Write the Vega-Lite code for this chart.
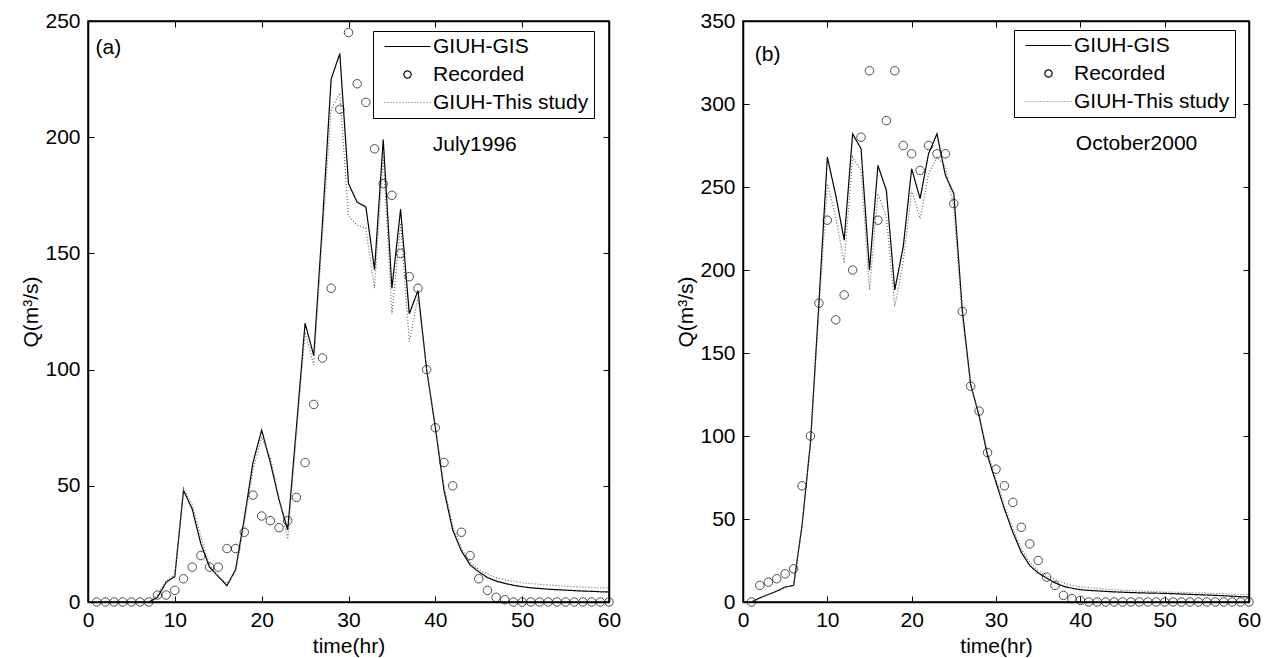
{
  "$schema": "https://vega.github.io/schema/vega-lite/v6.json",
  "background": "white",
  "padding": {"left": 20, "top": 9, "right": 10, "bottom": 0},
  "spacing": 53,
  "resolve": {"scale": {"color": "independent", "strokeDash": "independent"}, "legend": {"color": "independent", "strokeDash": "independent"}},
  "config": {
    "font": "Liberation Sans",
    "view": {"stroke": "black", "strokeWidth": 1.5},
    "axis": {
      "labelFont": "Liberation Sans", "titleFont": "Liberation Sans",
      "labelFontSize": 21, "titleFontSize": 21, "titleFontWeight": "normal",
      "labelColor": "black", "titleColor": "black",
      "domainColor": "black", "domainWidth": 1.5, "tickColor": "black", "tickWidth": 1,
      "grid": false, "tickSize": -6, "labelPadding": 14, "labelFlush": false, "labelOverlap": false
    },
    "legend": {
      "labelFont": "Liberation Sans", "labelFontSize": 21, "labelColor": "black", "labelLimit": 400
    }
  },
  "datasets": {
    "a": [
      {"t":1,"GIUH-GIS":0,"Recorded":0,"GIUH-This study":0},
      {"t":2,"GIUH-GIS":0,"Recorded":0,"GIUH-This study":0},
      {"t":3,"GIUH-GIS":0,"Recorded":0,"GIUH-This study":0},
      {"t":4,"GIUH-GIS":0,"Recorded":0,"GIUH-This study":0},
      {"t":5,"GIUH-GIS":0,"Recorded":0,"GIUH-This study":0},
      {"t":6,"GIUH-GIS":0,"Recorded":0,"GIUH-This study":0},
      {"t":7,"GIUH-GIS":0,"Recorded":0,"GIUH-This study":0},
      {"t":8,"GIUH-GIS":2,"Recorded":3,"GIUH-This study":3},
      {"t":9,"GIUH-GIS":8.5,"Recorded":3,"GIUH-This study":9},
      {"t":10,"GIUH-GIS":11,"Recorded":5,"GIUH-This study":12},
      {"t":11,"GIUH-GIS":48,"Recorded":10,"GIUH-This study":49},
      {"t":12,"GIUH-GIS":40,"Recorded":15,"GIUH-This study":42},
      {"t":13,"GIUH-GIS":25,"Recorded":20,"GIUH-This study":28},
      {"t":14,"GIUH-GIS":15,"Recorded":15,"GIUH-This study":16},
      {"t":15,"GIUH-GIS":11,"Recorded":15,"GIUH-This study":11},
      {"t":16,"GIUH-GIS":7,"Recorded":23,"GIUH-This study":8},
      {"t":17,"GIUH-GIS":14,"Recorded":23,"GIUH-This study":13},
      {"t":18,"GIUH-GIS":36,"Recorded":30,"GIUH-This study":34},
      {"t":19,"GIUH-GIS":60,"Recorded":46,"GIUH-This study":57},
      {"t":20,"GIUH-GIS":74,"Recorded":37,"GIUH-This study":71},
      {"t":21,"GIUH-GIS":60,"Recorded":35,"GIUH-This study":62},
      {"t":22,"GIUH-GIS":44,"Recorded":32,"GIUH-This study":45},
      {"t":23,"GIUH-GIS":31,"Recorded":35,"GIUH-This study":27},
      {"t":24,"GIUH-GIS":75,"Recorded":45,"GIUH-This study":72},
      {"t":25,"GIUH-GIS":120,"Recorded":60,"GIUH-This study":116},
      {"t":26,"GIUH-GIS":106,"Recorded":85,"GIUH-This study":102},
      {"t":27,"GIUH-GIS":163,"Recorded":105,"GIUH-This study":158},
      {"t":28,"GIUH-GIS":225,"Recorded":135,"GIUH-This study":212},
      {"t":29,"GIUH-GIS":236,"Recorded":212,"GIUH-This study":219},
      {"t":30,"GIUH-GIS":180,"Recorded":245,"GIUH-This study":166},
      {"t":31,"GIUH-GIS":172,"Recorded":223,"GIUH-This study":162},
      {"t":32,"GIUH-GIS":170,"Recorded":215,"GIUH-This study":161},
      {"t":33,"GIUH-GIS":143,"Recorded":195,"GIUH-This study":135},
      {"t":34,"GIUH-GIS":199,"Recorded":180,"GIUH-This study":192},
      {"t":35,"GIUH-GIS":135,"Recorded":175,"GIUH-This study":124},
      {"t":36,"GIUH-GIS":169,"Recorded":150,"GIUH-This study":163},
      {"t":37,"GIUH-GIS":124,"Recorded":140,"GIUH-This study":112},
      {"t":38,"GIUH-GIS":134,"Recorded":135,"GIUH-This study":131},
      {"t":39,"GIUH-GIS":100,"Recorded":100,"GIUH-This study":100},
      {"t":40,"GIUH-GIS":75,"Recorded":75,"GIUH-This study":76},
      {"t":41,"GIUH-GIS":48,"Recorded":60,"GIUH-This study":50},
      {"t":42,"GIUH-GIS":31,"Recorded":50,"GIUH-This study":33},
      {"t":43,"GIUH-GIS":22,"Recorded":30,"GIUH-This study":23},
      {"t":44,"GIUH-GIS":16,"Recorded":20,"GIUH-This study":17},
      {"t":45,"GIUH-GIS":13,"Recorded":10,"GIUH-This study":14},
      {"t":46,"GIUH-GIS":10.5,"Recorded":5,"GIUH-This study":12},
      {"t":47,"GIUH-GIS":9,"Recorded":2,"GIUH-This study":10.5},
      {"t":48,"GIUH-GIS":8,"Recorded":1,"GIUH-This study":9.5},
      {"t":49,"GIUH-GIS":7.2,"Recorded":0,"GIUH-This study":8.9},
      {"t":50,"GIUH-GIS":6.6,"Recorded":0,"GIUH-This study":8.3},
      {"t":51,"GIUH-GIS":6.1,"Recorded":0,"GIUH-This study":7.9},
      {"t":52,"GIUH-GIS":5.8,"Recorded":0,"GIUH-This study":7.6},
      {"t":53,"GIUH-GIS":5.5,"Recorded":0,"GIUH-This study":7.3},
      {"t":54,"GIUH-GIS":5.3,"Recorded":0,"GIUH-This study":7},
      {"t":55,"GIUH-GIS":5.1,"Recorded":0,"GIUH-This study":6.8},
      {"t":56,"GIUH-GIS":4.9,"Recorded":0,"GIUH-This study":6.6},
      {"t":57,"GIUH-GIS":4.7,"Recorded":0,"GIUH-This study":6.4},
      {"t":58,"GIUH-GIS":4.6,"Recorded":0,"GIUH-This study":6.2},
      {"t":59,"GIUH-GIS":4.4,"Recorded":0,"GIUH-This study":6.1},
      {"t":60,"GIUH-GIS":4.3,"Recorded":0,"GIUH-This study":6}
    ],
    "b": [
      {"t":1,"GIUH-GIS":0,"Recorded":0,"GIUH-This study":0},
      {"t":2,"GIUH-GIS":2.5,"Recorded":10,"GIUH-This study":2.5},
      {"t":3,"GIUH-GIS":4.5,"Recorded":12,"GIUH-This study":4.5},
      {"t":4,"GIUH-GIS":6.5,"Recorded":14,"GIUH-This study":6.5},
      {"t":5,"GIUH-GIS":9,"Recorded":17,"GIUH-This study":9},
      {"t":6,"GIUH-GIS":10,"Recorded":20,"GIUH-This study":10},
      {"t":7,"GIUH-GIS":46,"Recorded":70,"GIUH-This study":46},
      {"t":8,"GIUH-GIS":96,"Recorded":100,"GIUH-This study":95},
      {"t":9,"GIUH-GIS":180,"Recorded":180,"GIUH-This study":175},
      {"t":10,"GIUH-GIS":268,"Recorded":230,"GIUH-This study":252},
      {"t":11,"GIUH-GIS":245,"Recorded":170,"GIUH-This study":232},
      {"t":12,"GIUH-GIS":218,"Recorded":185,"GIUH-This study":204},
      {"t":13,"GIUH-GIS":282,"Recorded":200,"GIUH-This study":268},
      {"t":14,"GIUH-GIS":273,"Recorded":280,"GIUH-This study":260},
      {"t":15,"GIUH-GIS":200,"Recorded":320,"GIUH-This study":188},
      {"t":16,"GIUH-GIS":263,"Recorded":230,"GIUH-This study":246},
      {"t":17,"GIUH-GIS":248,"Recorded":290,"GIUH-This study":232},
      {"t":18,"GIUH-GIS":188,"Recorded":320,"GIUH-This study":178},
      {"t":19,"GIUH-GIS":214,"Recorded":275,"GIUH-This study":205},
      {"t":20,"GIUH-GIS":261,"Recorded":270,"GIUH-This study":248},
      {"t":21,"GIUH-GIS":243,"Recorded":260,"GIUH-This study":231},
      {"t":22,"GIUH-GIS":270,"Recorded":275,"GIUH-This study":258},
      {"t":23,"GIUH-GIS":282,"Recorded":270,"GIUH-This study":268},
      {"t":24,"GIUH-GIS":257,"Recorded":270,"GIUH-This study":262},
      {"t":25,"GIUH-GIS":246,"Recorded":240,"GIUH-This study":238},
      {"t":26,"GIUH-GIS":176,"Recorded":175,"GIUH-This study":172},
      {"t":27,"GIUH-GIS":131,"Recorded":130,"GIUH-This study":130},
      {"t":28,"GIUH-GIS":112,"Recorded":115,"GIUH-This study":113},
      {"t":29,"GIUH-GIS":88,"Recorded":90,"GIUH-This study":90},
      {"t":30,"GIUH-GIS":72,"Recorded":80,"GIUH-This study":74},
      {"t":31,"GIUH-GIS":56,"Recorded":70,"GIUH-This study":58},
      {"t":32,"GIUH-GIS":42,"Recorded":60,"GIUH-This study":44},
      {"t":33,"GIUH-GIS":30,"Recorded":45,"GIUH-This study":32},
      {"t":34,"GIUH-GIS":22,"Recorded":35,"GIUH-This study":24},
      {"t":35,"GIUH-GIS":17.5,"Recorded":25,"GIUH-This study":19},
      {"t":36,"GIUH-GIS":14.5,"Recorded":15,"GIUH-This study":16},
      {"t":37,"GIUH-GIS":11.5,"Recorded":10,"GIUH-This study":13.5},
      {"t":38,"GIUH-GIS":9.5,"Recorded":4,"GIUH-This study":11.5},
      {"t":39,"GIUH-GIS":8.3,"Recorded":2,"GIUH-This study":10},
      {"t":40,"GIUH-GIS":7.4,"Recorded":1,"GIUH-This study":9.2},
      {"t":41,"GIUH-GIS":7,"Recorded":0,"GIUH-This study":8.7},
      {"t":42,"GIUH-GIS":6.7,"Recorded":0,"GIUH-This study":8.2},
      {"t":43,"GIUH-GIS":6.4,"Recorded":0,"GIUH-This study":7.8},
      {"t":44,"GIUH-GIS":6.1,"Recorded":0,"GIUH-This study":7.4},
      {"t":45,"GIUH-GIS":5.9,"Recorded":0,"GIUH-This study":7.1},
      {"t":46,"GIUH-GIS":5.7,"Recorded":0,"GIUH-This study":6.8},
      {"t":47,"GIUH-GIS":5.5,"Recorded":0,"GIUH-This study":6.6},
      {"t":48,"GIUH-GIS":5.4,"Recorded":0,"GIUH-This study":6.4},
      {"t":49,"GIUH-GIS":5.3,"Recorded":0,"GIUH-This study":6.2},
      {"t":50,"GIUH-GIS":5.2,"Recorded":0,"GIUH-This study":6},
      {"t":51,"GIUH-GIS":5,"Recorded":0,"GIUH-This study":5.9},
      {"t":52,"GIUH-GIS":4.8,"Recorded":0,"GIUH-This study":5.8},
      {"t":53,"GIUH-GIS":4.6,"Recorded":0,"GIUH-This study":5.6},
      {"t":54,"GIUH-GIS":4.4,"Recorded":0,"GIUH-This study":5.5},
      {"t":55,"GIUH-GIS":4.2,"Recorded":0,"GIUH-This study":5.3},
      {"t":56,"GIUH-GIS":4,"Recorded":0,"GIUH-This study":5.1},
      {"t":57,"GIUH-GIS":3.8,"Recorded":0,"GIUH-This study":5},
      {"t":58,"GIUH-GIS":3.5,"Recorded":0,"GIUH-This study":4.8},
      {"t":59,"GIUH-GIS":3.2,"Recorded":0,"GIUH-This study":4.6},
      {"t":60,"GIUH-GIS":3,"Recorded":0,"GIUH-This study":4.5}
    ]
  },
  "hconcat": [
    {
      "width": 521, "height": 581,
      "data": {"name": "a"},
      "transform": [{"fold": ["GIUH-GIS", "Recorded", "GIUH-This study"], "as": ["series", "Q"]}],
      "resolve": {"axis": {"x": "independent", "y": "independent"}},
      "layer": [
        {
          "transform": [{"filter": "datum.series !== 'Recorded'"}],
          "mark": {"type": "line", "strokeWidth": 1.2},
          "encoding": {
            "x": {"field": "t", "type": "quantitative", "scale": {"domain": [0, 60], "nice": false},
                  "axis": {"orient": "bottom", "values": [0,10,20,30,40,50,60], "title": "time(hr)", "titlePadding": 5, "labelPadding": 13}},
            "y": {"field": "Q", "type": "quantitative", "scale": {"domain": [0, 250], "nice": false},
                  "axis": {"orient": "left", "values": [0,50,100,150,200,250], "title": "Q(m³/s)", "titlePadding": 3}},
            "color": {"field": "series", "type": "nominal",
                      "scale": {"domain": ["GIUH-GIS", "Recorded", "GIUH-This study"], "range": ["black", "black", "#666666"]},
                      "legend": {"orient": "none", "legendX": 285, "legendY": 10, "title": null,
                                 "strokeColor": "black", "fillColor": "white", "padding": 5,
                                 "symbolSize": 64, "labelOffset": 34, "rowPadding": 6, "symbolStrokeWidth": 1.2,
                                 "encode": {"symbols": {"update": {
                                   "shape": {"signal": "datum.value === 'Recorded' ? 'M5.65,0A0.9,0.9 0 1,1 3.85,0A0.9,0.9 0 1,1 5.65,0Z' : 'M-1,0H10.5'"},
                                   "strokeDash": {"signal": "datum.value === 'GIUH-This study' ? [1,2] : [1,0]"},
                                   "fill": {"value": "transparent"}
                                 }}}}},
            "strokeDash": {"field": "series", "type": "nominal",
                           "scale": {"domain": ["GIUH-GIS", "GIUH-This study"], "range": [[1, 0], [1, 2]]}, "legend": null}
          }
        },
        {
          "transform": [{"filter": "datum.series === 'Recorded'"}],
          "mark": {"type": "point", "shape": "circle", "filled": false, "size": 72, "strokeWidth": 1},
          "encoding": {
            "x": {"field": "t", "type": "quantitative", "axis": {"orient": "top", "values": [0,10,20,30,40,50,60], "labels": false, "title": null}},
            "y": {"field": "Q", "type": "quantitative", "axis": {"orient": "right", "values": [0,50,100,150,200,250], "labels": false, "title": null}},
            "color": {"field": "series", "type": "nominal"}
          }
        },
        {
          "data": {"values": [{}]},
          "mark": {"type": "text", "align": "left", "baseline": "alphabetic", "fontSize": 21, "font": "Liberation Sans", "color": "black"},
          "encoding": {"x": {"datum": 0.86, "axis": null}, "y": {"datum": 236, "axis": null}, "text": {"value": "(a)"}}
        },
        {
          "data": {"values": [{}]},
          "mark": {"type": "text", "align": "left", "baseline": "alphabetic", "fontSize": 21, "font": "Liberation Sans", "color": "black"},
          "encoding": {"x": {"datum": 39.7, "axis": null}, "y": {"datum": 194, "axis": null}, "text": {"value": "July1996"}}
        }
      ]
    },
    {
      "width": 506, "height": 581,
      "data": {"name": "b"},
      "transform": [{"fold": ["GIUH-GIS", "Recorded", "GIUH-This study"], "as": ["series", "Q"]}],
      "resolve": {"axis": {"x": "independent", "y": "independent"}},
      "layer": [
        {
          "transform": [{"filter": "datum.series !== 'Recorded'"}],
          "mark": {"type": "line", "strokeWidth": 1.2},
          "encoding": {
            "x": {"field": "t", "type": "quantitative", "scale": {"domain": [0, 60], "nice": false},
                  "axis": {"orient": "bottom", "values": [0,10,20,30,40,50,60], "title": "time(hr)", "titlePadding": 5, "labelPadding": 13}},
            "y": {"field": "Q", "type": "quantitative", "scale": {"domain": [0, 350], "nice": false},
                  "axis": {"orient": "left", "values": [0,50,100,150,200,250,300,350], "title": "Q(m³/s)", "titlePadding": 3}},
            "color": {"field": "series", "type": "nominal",
                      "scale": {"domain": ["GIUH-GIS", "Recorded", "GIUH-This study"], "range": ["black", "black", "#666666"]},
                      "legend": {"orient": "none", "legendX": 271, "legendY": 9, "title": null,
                                 "strokeColor": "black", "fillColor": "white", "padding": 5,
                                 "symbolSize": 64, "labelOffset": 34, "rowPadding": 6, "symbolStrokeWidth": 1.2,
                                 "encode": {"symbols": {"update": {
                                   "shape": {"signal": "datum.value === 'Recorded' ? 'M5.65,0A0.9,0.9 0 1,1 3.85,0A0.9,0.9 0 1,1 5.65,0Z' : 'M-1,0H10.5'"},
                                   "strokeDash": {"signal": "datum.value === 'GIUH-This study' ? [1,2] : [1,0]"},
                                   "fill": {"value": "transparent"}
                                 }}}}},
            "strokeDash": {"field": "series", "type": "nominal",
                           "scale": {"domain": ["GIUH-GIS", "GIUH-This study"], "range": [[1, 0], [1, 2]]}, "legend": null}
          }
        },
        {
          "transform": [{"filter": "datum.series === 'Recorded'"}],
          "mark": {"type": "point", "shape": "circle", "filled": false, "size": 72, "strokeWidth": 1},
          "encoding": {
            "x": {"field": "t", "type": "quantitative", "axis": {"orient": "top", "values": [0,10,20,30,40,50,60], "labels": false, "title": null}},
            "y": {"field": "Q", "type": "quantitative", "axis": {"orient": "right", "values": [0,50,100,150,200,250,300,350], "labels": false, "title": null}},
            "color": {"field": "series", "type": "nominal"}
          }
        },
        {
          "data": {"values": [{}]},
          "mark": {"type": "text", "align": "left", "baseline": "alphabetic", "fontSize": 21, "font": "Liberation Sans", "color": "black"},
          "encoding": {"x": {"datum": 1.39, "axis": null}, "y": {"datum": 326, "axis": null}, "text": {"value": "(b)"}}
        },
        {
          "data": {"values": [{}]},
          "mark": {"type": "text", "align": "left", "baseline": "alphabetic", "fontSize": 21, "font": "Liberation Sans", "color": "black"},
          "encoding": {"x": {"datum": 39.47, "axis": null}, "y": {"datum": 272, "axis": null}, "text": {"value": "October2000"}}
        }
      ]
    }
  ]
}
